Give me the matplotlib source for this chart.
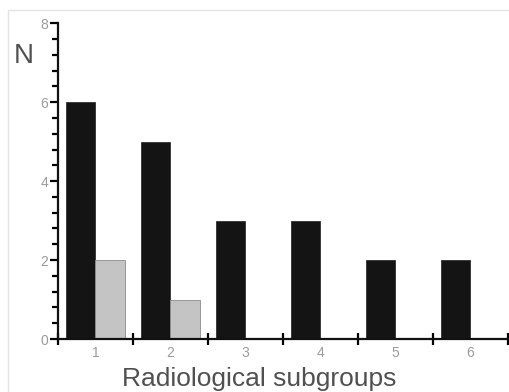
import matplotlib.pyplot as plt
import numpy as np
from matplotlib.ticker import MultipleLocator
from matplotlib.patches import Rectangle

# data
groups = [1, 2, 3, 4, 5, 6]
dark_counts = [6, 5, 3, 3, 2, 2]
light_counts = [2, 1, 0, 0, 0, 0]

bar_w = 0.39
label_col = '#9a9a9a'

plt.rcParams['font.family'] = ['Liberation Sans', 'DejaVu Sans']

fig = plt.figure(figsize=(5.1, 3.92), dpi=100)
ax = fig.add_axes([0.1137, 0.135, 0.882, 0.806])

x = np.array(groups)
ax.bar(x - bar_w/2, dark_counts, bar_w, color='#141414', edgecolor='#303030', linewidth=0.6)
light_x = [g for g, v in zip(groups, light_counts) if v > 0]
light_v = [v for v in light_counts if v > 0]
ax.bar(np.array(light_x) + bar_w/2, light_v, bar_w, color='#c4c4c4', edgecolor='#8a8a8a', linewidth=0.6)

ax.set_xlim(0.5, 6.5)
ax.set_ylim(0, 8)

for s in ['top', 'right']:
    ax.spines[s].set_visible(False)
for s in ['left', 'bottom']:
    ax.spines[s].set_linewidth(1.6)
    ax.spines[s].set_color('#111111')

# y axis
ax.yaxis.set_major_locator(MultipleLocator(2))
ax.yaxis.set_minor_locator(MultipleLocator(0.4))
ax.tick_params(axis='y', which='major', direction='out', length=6, width=1.6,
               labelsize=10, labelcolor=label_col, pad=1)
ax.tick_params(axis='y', which='minor', direction='out', length=4, width=1.6)

# x axis: ticks at the group boundaries, labels at group centres
ax.set_xticks(np.arange(0.5, 7.0, 1.0))
ax.set_xticklabels([])
ax.tick_params(axis='x', which='major', direction='inout', length=9, width=1.6)
ax.set_xticks(groups, minor=True)
ax.set_xticklabels([str(g) for g in groups], minor=True)
ax.tick_params(axis='x', which='minor', length=0, labelsize=10, labelcolor=label_col, pad=5)

ax.set_xlabel('Radiological subgroups', fontsize=19, color='#505050')
ax.xaxis.set_label_coords(0.447, -0.088, transform=ax.transAxes)
ax.xaxis.label.set_verticalalignment('top')
fig.text(0.027, 0.84, 'N', fontsize=20, color='#505050')

# faint frame around the figure
fig.patches.append(Rectangle((0.016, -0.1), 1.1, 1.074, transform=fig.transFigure,
                             fill=False, edgecolor='#e4e4e4', linewidth=1))

fig.savefig('out.png', dpi=100)
